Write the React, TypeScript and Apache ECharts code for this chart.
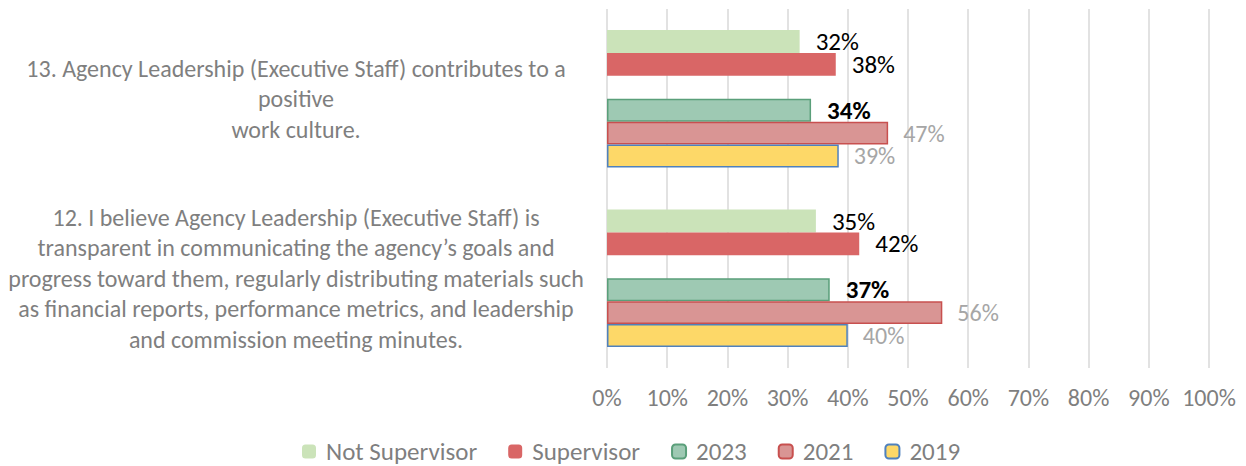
import React, { useEffect, useRef } from "react";
import * as echarts from "echarts";

const categories = [
  "12. I believe Agency Leadership (Executive Staff) is\ntransparent in communicating the agency’s goals and\nprogress toward them, regularly distributing materials such\nas financial reports, performance metrics, and leadership\nand commission meeting minutes.",
  "13. Agency Leadership (Executive Staff) contributes to a\npositive\nwork culture.",
];
const notSupervisor = [34.7, 32.0];
const supervisor = [41.9, 38.0];
const y2023 = [37.0, 33.9];
const y2021 = [55.7, 46.7];
const y2019 = [40.0, 38.5];

const FONT = "Carlito, Calibri, Lato, 'Open Sans', sans-serif";

export default function App() {
  const ref = useRef<HTMLDivElement>(null);
  useEffect(() => {
    document.body.style.margin = "0";
    const chart = echarts.init(ref.current!, null, { renderer: "svg" });
    const blackLabel = (bold: boolean) => ({
      show: true,
      position: "right",
      distance: 16,
      color: "#000000",
      fontSize: 25,
      fontWeight: bold ? "bold" : "normal",
      fontFamily: FONT,
      formatter: (p: any) => Math.round(p.value) + "%",
    });
    const greyLabel = {
      show: true,
      position: "right",
      distance: 15,
      color: "#a6a6a6",
      fontSize: 24,
      fontFamily: FONT,
      formatter: (p: any) => Math.round(p.value) + "%",
    };
    chart.setOption({
      animation: false,
      textStyle: { fontFamily: FONT },
      grid: { left: 607, right: 37, top: 9, bottom: 98 },
      legend: {
        data: ["Not Supervisor", "Supervisor", "2023", "2021", "2019"],
        left: 297,
        top: 434,
        itemWidth: 14,
        itemHeight: 14,
        itemGap: 31,
        textStyle: { color: "#7f7f7f", fontSize: 25, fontFamily: FONT, padding: [0, 0, 0, 5] },
      },
      xAxis: {
        type: "value",
        min: 0,
        max: 100,
        interval: 10,
        axisLine: { show: false },
        axisTick: { show: false },
        splitLine: { lineStyle: { color: "#d9d9d9", width: 1.5 } },
        axisLabel: {
          formatter: "{value}%",
          color: "#7f7f7f",
          fontSize: 24,
          fontFamily: FONT,
          margin: 17,
        },
      },
      yAxis: {
        type: "category",
        data: categories,
        axisLine: { show: false },
        axisTick: { show: false },
        axisLabel: {
          align: "center",
          margin: 311,
          color: "#7f7f7f",
          fontSize: 24,
          lineHeight: 30.5,
          fontFamily: FONT,
        },
      },
      series: [
        {
          name: "Not Supervisor",
          type: "bar",
          barGap: "0%",
          barCategoryGap: "23.5%",
          data: notSupervisor,
          itemStyle: { color: "#cbe3b9" },
          label: blackLabel(false),
        },
        {
          name: "Supervisor",
          type: "bar",
          data: supervisor,
          itemStyle: { color: "#d96666" },
          label: blackLabel(false),
        },
        {
          name: "gap",
          type: "bar",
          data: [null, null],
        },
        {
          name: "2023",
          type: "bar",
          data: y2023,
          itemStyle: { color: "#9ec9b3", borderColor: "#5a9f7a", borderWidth: 1.5 },
          label: blackLabel(true),
        },
        {
          name: "2021",
          type: "bar",
          data: y2021,
          itemStyle: { color: "#d99594", borderColor: "#c8504f", borderWidth: 1.5 },
          label: greyLabel,
        },
        {
          name: "2019",
          type: "bar",
          data: y2019,
          itemStyle: { color: "#fdd868", borderColor: "#4f81bd", borderWidth: 1.5 },
          label: greyLabel,
        },
      ],
    });
    return () => chart.dispose();
  }, []);
  return (
    <div
      ref={ref}
      style={{ position: "absolute", left: 0, top: 0, width: 1246, height: 466 }}
    />
  );
}
